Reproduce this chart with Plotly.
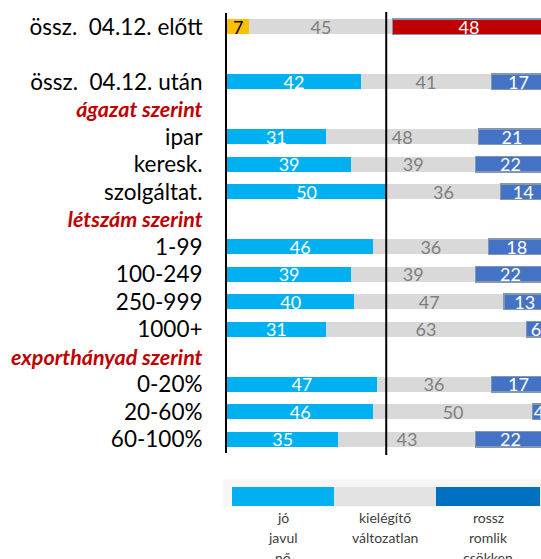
import plotly.graph_objects as go

# ---- data ----
categories = ["össz.  04.12. előtt", " ", "össz.  04.12. után", "ágazat szerint",
              "ipar", "keresk.", "szolgáltat.", "létszám szerint",
              "1-99", "100-249", "250-999", "1000+", "exporthányad szerint",
              "0-20%", "20-60%", "60-100%"]
header_rows = ["ágazat szerint", "létszám szerint", "exporthányad szerint"]
jo = [7, None, 42, None, 31, 39, 50, None, 46, 39, 40, 31, None, 47, 46, 35]
kielegito = [45, None, 41, None, 48, 39, 36, None, 36, 39, 47, 63, None, 36, 50, 43]
rossz = [48, None, 17, None, 21, 22, 14, None, 18, 22, 13, 6, None, 17, 4, 22]
legend_labels = [["jó", "javul", "nő"], ["kielégítő", "változatlan"], ["rossz", "romlik", "csökken"]]
reference_line = 50

# ---- styles ----
C_BLUE = "#00B0F0"
C_GRAY = "#D9D9D9"
C_DBLUE = "#4472C4"
C_YELLOW = "#FFC000"
C_RED = "#C00000"
FONT = "Lato"

W, H = 541, 559
ML, MR, MT, MB = 227, 0, 13, 106
PW, PH = W - ML - MR, H - MT - MB


def px(x):
    return (x - ML) / PW


def py(y):
    return (H - MB - y) / PH


def txt(v):
    return ["" if a is None else str(a) for a in v]


fig = go.Figure()
first = categories[0]
col_jo = [C_YELLOW if c == first else C_BLUE for c in categories]
col_jo_t = ["black" if c == first else "white" for c in categories]
col_r = [C_RED if c == first else C_DBLUE for c in categories]

fig.add_trace(go.Bar(y=categories, x=jo, orientation="h", marker=dict(color=col_jo, line=dict(width=0)),
                     text=txt(jo), textposition="inside", insidetextanchor="middle", textangle=0,
                     textfont=dict(family=FONT, size=18, color=col_jo_t), hoverinfo="skip"))
fig.add_trace(go.Bar(y=categories, x=kielegito, orientation="h", marker=dict(color=C_GRAY, line=dict(width=0)),
                     text=txt(kielegito), textposition="inside", insidetextanchor="middle", textangle=0,
                     textfont=dict(family=FONT, size=18, color="#7F7F7F"), hoverinfo="skip"))
fig.add_trace(go.Bar(y=categories, x=rossz, orientation="h", marker=dict(color=col_r, line=dict(width=1.2, color="#8497B0")),
                     text=txt(rossz), textposition="inside", insidetextanchor="middle", textangle=0,
                     textfont=dict(family=FONT, size=18, color="white"), hoverinfo="skip"))

ticktext = []
for c in categories:
    if c in header_rows:
        ticktext.append("<b><i><span style='color:#C00000;font-size:21.5px'>%s</span></i></b>" % c)
    else:
        ticktext.append(c.replace("  ", "\u00a0\u00a0"))

fig.update_layout(
    barmode="stack", bargap=0.44, showlegend=False,
    width=W, height=H, autosize=False,
    margin=dict(l=ML, r=MR, t=MT, b=MB, pad=0),
    paper_bgcolor="white", plot_bgcolor="white",
    uniformtext=dict(mode="show", minsize=18),
    xaxis=dict(range=[0, 98.6], showgrid=False, zeroline=False, showticklabels=False, showline=False, fixedrange=True),
    yaxis=dict(categoryorder="array", categoryarray=categories, tickmode="array", tickvals=categories,
               ticktext=ticktext, autorange="reversed", showgrid=False, zeroline=False,
               showline=True, linecolor="black", linewidth=2, ticks="", ticklabelstandoff=18,
               tickfont=dict(family=FONT, size=22.5, color="black")),
)

# reference vertical line
fig.add_shape(type="line", xref="x", yref="paper", x0=reference_line, x1=reference_line,
              y0=py(455), y1=py(12), line=dict(color="black", width=2))

# legend (bottom)
fig.add_shape(type="rect", xref="paper", yref="paper", x0=px(223), x1=px(541), y0=py(507), y1=py(479),
              fillcolor="#F6F6F6", line=dict(width=0), layer="below")
leg_cols = [C_BLUE, "#E3E3E3", "#0070C0"]
edges = [232, 334, 436, 540]
for i, col in enumerate(leg_cols):
    fig.add_shape(type="rect", xref="paper", yref="paper", x0=px(edges[i]), x1=px(edges[i + 1]),
                  y0=py(506), y1=py(487), fillcolor=col, line=dict(width=0))
    cx = (edges[i] + edges[i + 1]) / 2
    for j, lab in enumerate(legend_labels[i]):
        fig.add_annotation(xref="paper", yref="paper", x=px(cx), y=py(517 + 20 * j), text=lab,
                           showarrow=False, xanchor="center", yanchor="middle",
                           font=dict(family=FONT, size=14, color="#404040"))

fig.write_html("out.html", config={"displayModeBar": False},
               post_script="document.body.style.margin='0';")
